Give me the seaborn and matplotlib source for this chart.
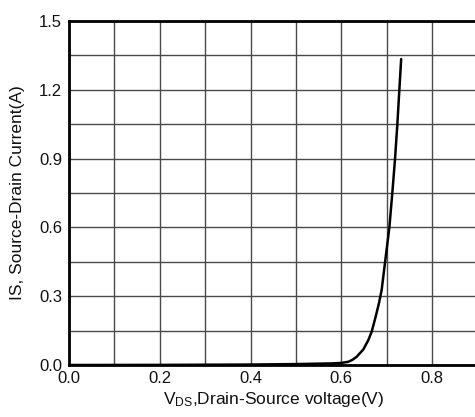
import matplotlib
matplotlib.use("Agg")
import matplotlib.pyplot as plt
from matplotlib.ticker import MultipleLocator
import seaborn as sns
import pandas as pd

# Body-diode forward characteristic: source-drain current vs. drain-source voltage
vds = [0.0, 0.2, 0.4, 0.5, 0.58, 0.6, 0.6156, 0.625, 0.634, 0.6487, 0.6597,
       0.667, 0.6757, 0.683, 0.689, 0.696, 0.706, 0.7125, 0.7185, 0.7236,
       0.728, 0.732]
i_s = [0.0, 0.0005, 0.002, 0.004, 0.007, 0.009, 0.014, 0.023, 0.036, 0.068, 0.109,
       0.145, 0.21, 0.269, 0.327, 0.44, 0.60, 0.75, 0.90, 1.05,
       1.20, 1.334]

x_ticks = [0.0, 0.2, 0.4, 0.6, 0.8]
y_ticks = [0.0, 0.3, 0.6, 0.9, 1.2, 1.5]
x_ticklabels = ["0.0", "0.2", "0.4", "0.6", "0.8"]
y_ticklabels = ["0.0", "0.3", "0.6", "0.9", "1.2", "1.5"]

df = pd.DataFrame({"vds": vds, "is": i_s})

sns.set_style("white")
plt.rcParams["font.family"] = ["Liberation Sans", "DejaVu Sans"]
plt.rcParams["mathtext.fontset"] = "custom"
plt.rcParams["mathtext.rm"] = "Liberation Sans"
plt.rcParams["mathtext.it"] = "Liberation Sans:italic"

fig = plt.figure(figsize=(4.75, 4.17), dpi=100)
ax = fig.add_axes([69 / 475, 52 / 417, 408.4 / 475, 344 / 417])

sns.lineplot(data=df, x="vds", y="is", ax=ax, color="black", linewidth=1.8,
             sort=False, estimator=None)
ax.lines[-1].set_solid_joinstyle("round")

ax.set_xlim(0.0, 0.9)
ax.set_ylim(0.0, 1.5)
ax.set_xticks(x_ticks)
ax.set_xticklabels(x_ticklabels)
ax.set_yticks(y_ticks)
ax.set_yticklabels(y_ticklabels)
ax.xaxis.set_minor_locator(MultipleLocator(0.1))
ax.yaxis.set_minor_locator(MultipleLocator(0.15))
ax.grid(True, which="both", color="#4a4a4a", linewidth=1.0)
ax.set_axisbelow(True)

ax.tick_params(axis="both", which="both", direction="in", length=2,
               width=1.5, color="black", labelsize=12, labelcolor="#111111")
ax.tick_params(axis="x", pad=4)
ax.tick_params(axis="y", pad=5)

for side in ["left", "bottom", "top"]:
    ax.spines[side].set_visible(True)
    ax.spines[side].set_color("black")
    ax.spines[side].set_linewidth(2.0)
ax.spines["right"].set_visible(False)

ax.set_xlabel(r"V$_{\mathrm{DS}}$,Drain-Source voltage(V)", fontsize=12.5,
              labelpad=3, color="#111111")
ax.set_ylabel("IS, Source-Drain Current(A)", fontsize=12.5, labelpad=10,
              color="#111111")

fig.savefig("out.png", dpi=100)
